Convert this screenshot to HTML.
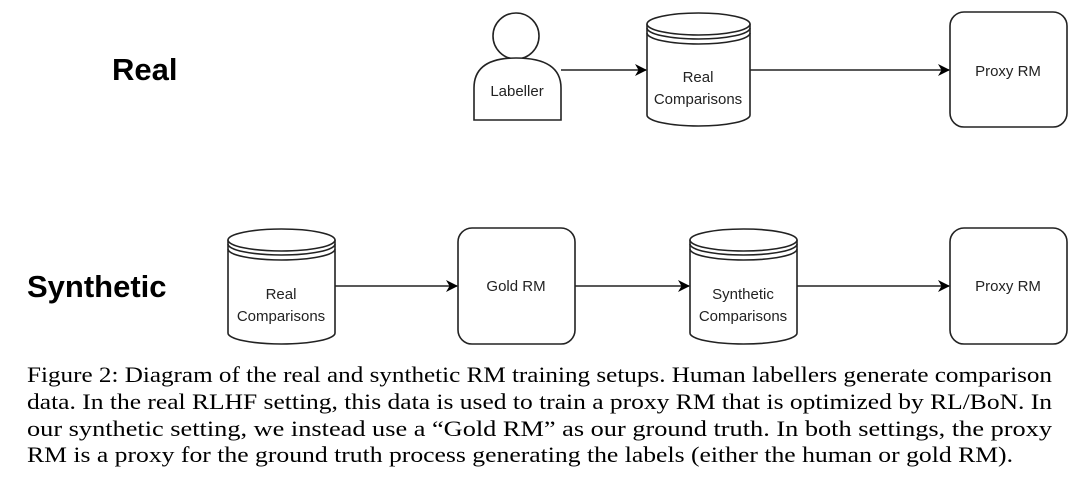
<!DOCTYPE html>
<html><head><style>
html,body{margin:0;padding:0;background:#fff;width:1080px;height:480px;overflow:hidden}
</style></head><body>
<svg width="1080" height="480" viewBox="0 0 1080 480" xmlns="http://www.w3.org/2000/svg">
<defs><marker id="a" markerWidth="12" markerHeight="12" refX="11" refY="6" orient="auto" markerUnits="userSpaceOnUse"><path d="M0,0 L12,6 L0,12 L3.5,6 Z" fill="#000"/></marker></defs>
<g font-family="Liberation Sans, sans-serif" fill="#000">
<text x="112" y="80" font-size="31" font-weight="bold">Real</text>
<text x="27" y="297" font-size="31" font-weight="bold">Synthetic</text>
</g>
<g stroke="#222" stroke-width="1.6" fill="#fff">
<circle cx="516" cy="36" r="23"/>
<path d="M474,120 L474,88 Q474,58 516,58 Q561,58 561,88 L561,120 Z"/>
<path d="M647,24 L647,115 A51.5,11 0 0 0 750,115 L750,24"/>
<ellipse cx="698.5" cy="24" rx="51.5" ry="11"/>
<path d="M647,28 A51.5,11 0 0 0 750,28 M647,33 A51.5,11 0 0 0 750,33" fill="none"/>
<rect x="950" y="12" width="117" height="115" rx="14"/>
<path d="M228,240 L228,333 A53.5,11 0 0 0 335,333 L335,240"/>
<ellipse cx="281.5" cy="240" rx="53.5" ry="11"/>
<path d="M228,244 A53.5,11 0 0 0 335,244 M228,249 A53.5,11 0 0 0 335,249" fill="none"/>
<rect x="458" y="228" width="117" height="116" rx="14"/>
<path d="M690,240 L690,333 A53.5,11 0 0 0 797,333 L797,240"/>
<ellipse cx="743.5" cy="240" rx="53.5" ry="11"/>
<path d="M690,244 A53.5,11 0 0 0 797,244 M690,249 A53.5,11 0 0 0 797,249" fill="none"/>
<rect x="950" y="228" width="117" height="116" rx="14"/>
</g>
<g stroke="#222" stroke-width="1.6" fill="none" marker-end="url(#a)">
<line x1="561" y1="70" x2="646" y2="70"/>
<line x1="750" y1="70" x2="949" y2="70"/>
<line x1="335" y1="286" x2="457" y2="286"/>
<line x1="575" y1="286" x2="689" y2="286"/>
<line x1="797" y1="286" x2="949" y2="286"/>
</g>
<g font-family="Liberation Sans, sans-serif" font-size="15" fill="#222" text-anchor="middle">
<text x="517" y="96">Labeller</text>
<text x="698" y="82">Real</text>
<text x="698" y="104">Comparisons</text>
<text x="1008" y="76">Proxy RM</text>
<text x="281" y="299">Real</text>
<text x="281" y="321">Comparisons</text>
<text x="516" y="291">Gold RM</text>
<text x="743" y="299">Synthetic</text>
<text x="743" y="321">Comparisons</text>
<text x="1008" y="291">Proxy RM</text>
</g>
<g font-family="Liberation Serif, serif" font-size="22" fill="#000">
<text x="27" y="382" textLength="1025" lengthAdjust="spacingAndGlyphs">Figure 2: Diagram of the real and synthetic RM training setups. Human labellers generate comparison</text>
<text x="27" y="409" textLength="1025" lengthAdjust="spacingAndGlyphs">data. In the real RLHF setting, this data is used to train a proxy RM that is optimized by RL/BoN. In</text>
<text x="27" y="436" textLength="1025" lengthAdjust="spacingAndGlyphs">our synthetic setting, we instead use a “Gold RM” as our ground truth. In both settings, the proxy</text>
<text x="27" y="462" textLength="986" lengthAdjust="spacingAndGlyphs">RM is a proxy for the ground truth process generating the labels (either the human or gold RM).</text>
</g>
</svg>
</body></html>
